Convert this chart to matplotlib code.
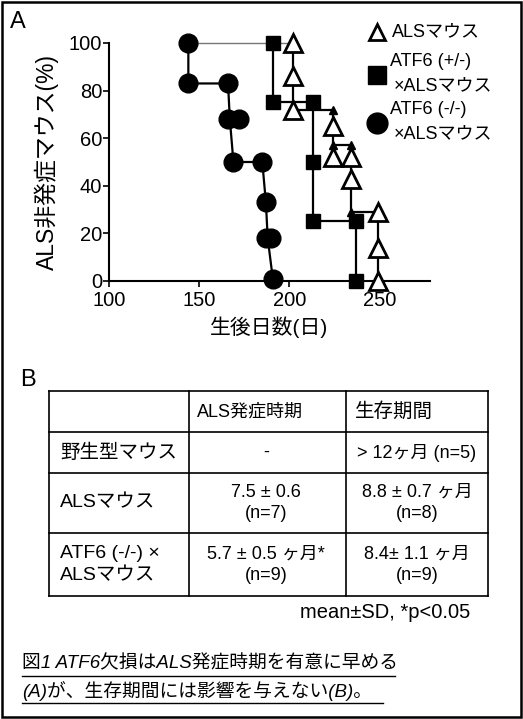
import matplotlib
matplotlib.use("Agg")
import matplotlib.pyplot as plt
from matplotlib.lines import Line2D
from matplotlib.patches import Rectangle

plt.rcParams['font.family'] = ['Liberation Sans', 'Noto Sans CJK JP']

# --- データ (A): ALS非発症マウス(%) vs 生後日数 ---
# ATF6 (-/-) x ALS (黒丸)
circ_x = [144, 144, 166, 166, 172, 169, 185, 187, 187, 190, 191]
circ_y = [100, 83, 83, 68, 68, 50, 50, 33, 18, 18, 1]
circ_step_x = [144, 144, 166, 167, 169, 185, 187, 188, 191]
circ_step_y = [100, 83, 83, 68, 50, 50, 33, 18, 0]

# ATF6 (+/-) x ALS (黒四角)
sq_x = [191, 191, 213, 213, 213, 237, 237]
sq_y = [100, 75, 75, 50, 25, 25, 0]

# ALSマウス (白三角)
tri_x = [202, 202, 202, 224, 224, 234, 234, 249, 249, 249]
tri_y = [100, 86, 72, 65, 52, 52, 43, 29, 14, 0]
tri_step_x = [202, 202, 224, 224, 234, 234, 249, 249]
tri_step_y = [100, 72, 72, 57, 57, 29, 29, 0]
tri_cap_x = [224, 224, 234, 234]
tri_cap_y = [72, 57, 57, 29]

# --- データ (B): 表 ---
col_headers = ['', 'ALS発症時期', '生存期間']
row_labels = ['野生型マウス', 'ALSマウス', 'ATF6 (-/-) ×\nALSマウス']
onset = ['-', '7.5 ± 0.6\n(n=7)', '5.7 ± 0.5 ヶ月*\n(n=9)']
survival = ['> 12ヶ月 (n=5)', '8.8 ± 0.7 ヶ月\n(n=8)', '8.4± 1.1 ヶ月\n(n=9)']

W, H = 523, 719
fig = plt.figure(figsize=(W / 100, H / 100), dpi=100)


def fx(px):
    return px / W


def fy(py):
    return 1 - py / H


# 外枠
fig.add_artist(Rectangle((fx(2), fy(717)), fx(519), 715 / H, fill=False,
                         edgecolor='black', lw=1.8, transform=fig.transFigure))

# ---- パネルA ----
fig.text(fx(10), fy(22), 'A', fontsize=17, va='center', ha='left')

ax = fig.add_axes([fx(109), fy(281), (430 - 109) / W, (281 - 43) / H])
ax.set_xlim(100, 278)
ax.set_ylim(0, 100)
ax.set_xticks([100, 150, 200, 250])
ax.set_yticks([0, 20, 40, 60, 80, 100])
ax.spines['top'].set_visible(False)
ax.spines['right'].set_visible(False)
for s in ['left', 'bottom']:
    ax.spines[s].set_linewidth(1.5)
ax.tick_params(direction='out', length=4, width=1.2, labelsize=14.5, pad=1)
ax.tick_params(axis='x', pad=3)
ax.set_xlabel('生後日数(日)', fontsize=15, labelpad=5)
ax.set_ylabel('ALS非発症マウス(%)', fontsize=16.5, labelpad=7)

# 100%の細線
ax.plot([144, 202], [100, 100], color='#777777', lw=1, zorder=1, clip_on=False)

ax.plot(circ_step_x, circ_step_y, color='black', lw=1.6, zorder=2, clip_on=False)
ax.plot(circ_x, circ_y, 'o', color='black', ms=13.5, zorder=3, clip_on=False)

ax.plot(sq_x, sq_y, color='black', lw=1.6, zorder=2, clip_on=False)
ax.plot(sq_x, sq_y, 's', color='black', ms=9.5, zorder=3, clip_on=False)

ax.plot(tri_step_x, tri_step_y, color='black', lw=1.6, zorder=2, clip_on=False)
ax.plot(tri_cap_x, tri_cap_y, '^', color='black', ms=6, zorder=3, clip_on=False)
ax.plot(tri_x, tri_y, '^', mfc='white', mec='black', mew=2, ms=12.5, zorder=4,
        clip_on=False)

# 凡例
leg_items = [('^', 32, ['ALSマウス']),
             ('s', 75, ['ATF6 (+/-)', '×ALSマウス']),
             ('o', 123, ['ATF6 (-/-)', '×ALSマウス'])]
for mk, yy, lines in leg_items:
    if mk == '^':
        fig.add_artist(Line2D([fx(377)], [fy(yy)], marker='^', mfc='white',
                              mec='black', mew=2, ms=12, ls='none'))
        fig.text(fx(392), fy(yy), lines[0], fontsize=13, va='center')
    else:
        fig.add_artist(Line2D([fx(377)], [fy(yy)], marker=mk, color='black',
                              ms=15 if mk == 'o' else 13, ls='none'))
        fig.text(fx(390), fy(yy - 13), lines[0], fontsize=13, va='center')
        fig.text(fx(394), fy(yy + 11), lines[1], fontsize=13, va='center')

# ---- パネルB ----
fig.text(fx(20), fy(380), 'B', fontsize=17, va='center', ha='left')

col_lines = [49, 189, 346, 488]
row_lines = [391, 432, 473, 533, 596]
for px in col_lines:
    fig.add_artist(Line2D([fx(px), fx(px)], [fy(row_lines[0]), fy(row_lines[-1])],
                          color='black', lw=1.2))
for py in row_lines:
    fig.add_artist(Line2D([fx(col_lines[0]), fx(col_lines[-1])], [fy(py), fy(py)],
                          color='black', lw=1.2))

hy = (row_lines[0] + row_lines[1]) / 2
fig.text(fx(197), fy(hy), col_headers[1], fontsize=13, va='center', ha='left')
fig.text(fx(355), fy(hy), col_headers[2], fontsize=14, va='center', ha='left')

for i in range(3):
    cy = (row_lines[i + 1] + row_lines[i + 2]) / 2
    fig.text(fx(60), fy(cy), row_labels[i], fontsize=14, va='center', ha='left',
             linespacing=1.35)
    fig.text(fx(266), fy(cy), onset[i], fontsize=13, va='center', ha='center',
             linespacing=1.35)
    fig.text(fx(417), fy(cy), survival[i], fontsize=13, va='center', ha='center',
             linespacing=1.35)

fig.text(fx(470), fy(613), 'mean±SD, *p<0.05', fontsize=14.5, va='center',
         ha='right')

# キャプション
captions = ['図1 ATF6欠損はALS発症時期を有意に早める',
            '(A)が、生存期間には影響を与えない(B)。']
cap_y = [664, 691]
cap_end = [395, 383]
for txt, yy, xe in zip(captions, cap_y, cap_end):
    fig.text(fx(22), fy(yy), txt, fontsize=13.5, style='italic', va='center',
             ha='left')
    fig.add_artist(Line2D([fx(22), fx(xe)], [fy(yy + 12), fy(yy + 12)],
                          color='black', lw=1))

fig.savefig('out.png', dpi=100)
